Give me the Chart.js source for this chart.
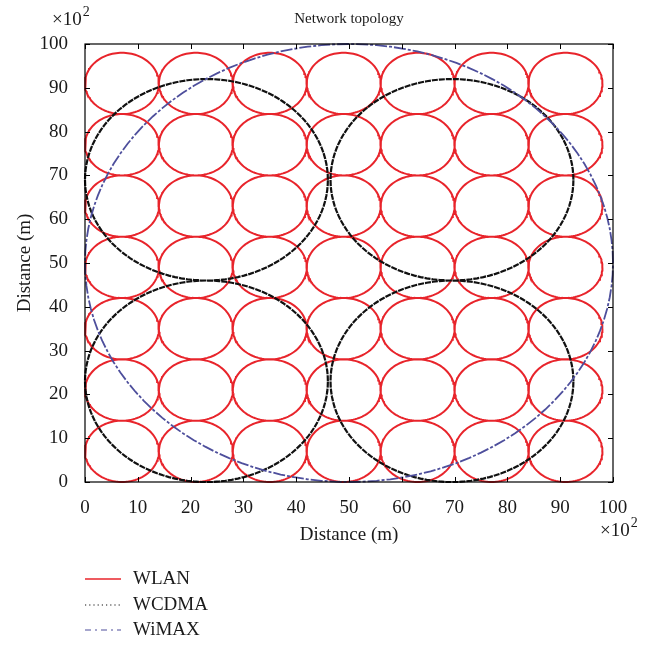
<!DOCTYPE html>
<html>
<head>
<meta charset="utf-8">
<script src="https://cdn.jsdelivr.net/npm/chart.js@4"></script>
<style>
  html, body { margin: 0; padding: 0; background: #fff; }
  #wrap { width: 660px; height: 646px; }
</style>
</head>
<body>
<div id="wrap"><canvas id="topologyChart" width="660" height="646"></canvas></div>
<script>
// cell layout (units of 100 m)
const wlanCentersX = [7, 21, 35, 49, 63, 77, 91];
const wlanCentersY = [7, 21, 35, 49, 63, 77, 91];
const wlanRadius = 7;

const wcdmaCentersX = [23, 69.5];
const wcdmaCentersY = [23, 69];
const wcdmaRadius = 23;

const wimaxCentersX = [50];
const wimaxCentersY = [50];
const wimaxRadius = 50;

const tickValues = [0, 10, 20, 30, 40, 50, 60, 70, 80, 90, 100];
const seriesNames = ['WLAN', 'WCDMA', 'WiMAX'];

const FONT = "'Liberation Serif', 'Times New Roman', serif";

// outline of every cell, one gap (y: null) between cells
function cellOutlines(xs, ys, r) {
    const pts = [];
    const steps = 120;
    for (const cy of ys) {
        for (const cx of xs) {
            for (let i = 0; i <= steps; i++) {
                const a = (i / steps) * Math.PI * 2;
                pts.push({ x: cx + r * Math.cos(a), y: cy + r * Math.sin(a) });
            }
            pts.push({ x: cx, y: null });
        }
    }
    return pts;
}

const frameAndLegend = {
    id: 'frameAndLegend',
    afterDraw(chart) {
        const ctx = chart.ctx;
        const area = chart.chartArea;
        const xs = chart.scales.x;
        const ys = chart.scales.y;
        ctx.save();

        // box
        ctx.strokeStyle = '#000';
        ctx.lineWidth = 1.2;
        ctx.strokeRect(area.left, area.top, area.right - area.left, area.bottom - area.top);

        // inward ticks on all sides
        const tl = 5;
        ctx.beginPath();
        tickValues.forEach(v => {
            const px = Math.round(xs.getPixelForValue(v)) + 0.5;
            ctx.moveTo(px, area.bottom); ctx.lineTo(px, area.bottom - tl);
            ctx.moveTo(px, area.top); ctx.lineTo(px, area.top + tl);
            const py = Math.round(ys.getPixelForValue(v)) + 0.5;
            ctx.moveTo(area.left, py); ctx.lineTo(area.left + tl, py);
            ctx.moveTo(area.right, py); ctx.lineTo(area.right - tl, py);
        });
        ctx.lineWidth = 1;
        ctx.stroke();

        ctx.fillStyle = '#1a1a1a';
        // title
        ctx.font = '15px ' + FONT;
        ctx.textAlign = 'center';
        ctx.textBaseline = 'middle';
        ctx.fillText('Network topology', (area.left + area.right) / 2, 19);

        // axis titles
        ctx.font = '19px ' + FONT;
        ctx.fillText('Distance (m)', (area.left + area.right) / 2, 535);
        ctx.save();
        ctx.translate(25, (area.top + area.bottom) / 2);
        ctx.rotate(-Math.PI / 2);
        ctx.fillText('Distance (m)', 0, 0);
        ctx.restore();

        // exponent labels
        function expo(x, y) {
            ctx.textAlign = 'left';
            ctx.textBaseline = 'alphabetic';
            ctx.font = '19px ' + FONT;
            ctx.fillText('\u00d710', x, y);
            const w = ctx.measureText('\u00d710').width;
            ctx.font = '14px ' + FONT;
            ctx.fillText('2', x + w + 1, y - 9);
        }
        expo(52, 25);
        expo(600, 536);

        // legend
        const legendY = [579, 605, 630];
        chart.data.datasets.forEach((ds, i) => {
            ctx.save();
            ctx.strokeStyle = ds.borderColor;
            ctx.lineWidth = i === 0 ? 1.5 : 1.2;
            ctx.setLineDash(ds.legendDash);
            ctx.beginPath();
            ctx.moveTo(85, legendY[i]);
            ctx.lineTo(121, legendY[i]);
            ctx.stroke();
            ctx.restore();
            ctx.fillStyle = '#1a1a1a';
            ctx.font = '19px ' + FONT;
            ctx.textAlign = 'left';
            ctx.textBaseline = 'middle';
            ctx.fillText(ds.label, 133, legendY[i]);
        });
        ctx.restore();
    }
};

new Chart(document.getElementById('topologyChart'), {
    type: 'scatter',
    data: {
        datasets: [
            {
                label: seriesNames[0],
                data: cellOutlines(wlanCentersX, wlanCentersY, wlanRadius),
                borderColor: '#e8242b',
                borderWidth: 2,
                borderDash: [],
                legendDash: [],
                order: 3
            },
            {
                label: seriesNames[1],
                data: cellOutlines(wcdmaCentersX, wcdmaCentersY, wcdmaRadius),
                borderColor: '#111111',
                borderWidth: 2.2,
                borderDash: [6, 1],
                legendDash: [1.2, 3],
                order: 2
            },
            {
                label: seriesNames[2],
                data: cellOutlines(wimaxCentersX, wimaxCentersY, wimaxRadius),
                borderColor: '#4e4f9c',
                borderWidth: 1.8,
                borderDash: [12, 2, 3, 2],
                legendDash: [6, 4, 2, 4],
                order: 1
            }
        ]
    },
    options: {
        responsive: false,
        animation: false,
        showLine: true,
        spanGaps: false,
        clip: false,
        elements: {
            point: { radius: 0, hoverRadius: 0 },
            line: { tension: 0, fill: false }
        },
        layout: { padding: { top: 44, right: 47, left: 0, bottom: 0 } },
        plugins: {
            legend: { display: false },
            title: { display: false },
            tooltip: { enabled: false }
        },
        scales: {
            x: {
                type: 'linear',
                min: 0,
                max: 100,
                afterFit: s => { s.height = 164; },
                afterBuildTicks: s => { s.ticks = tickValues.map(v => ({ value: v })); },
                grid: { display: false },
                border: { display: false },
                ticks: {
                    padding: 7,
                    maxRotation: 0,
                    color: '#1a1a1a',
                    font: { family: FONT, size: 19 }
                }
            },
            y: {
                type: 'linear',
                min: 0,
                max: 100,
                afterFit: s => { s.width = 85; },
                afterBuildTicks: s => { s.ticks = tickValues.map(v => ({ value: v })); },
                grid: { display: false },
                border: { display: false },
                ticks: {
                    padding: 9,
                    color: '#1a1a1a',
                    font: { family: FONT, size: 19 }
                }
            }
        }
    },
    plugins: [frameAndLegend]
});
</script>
</body>
</html>
